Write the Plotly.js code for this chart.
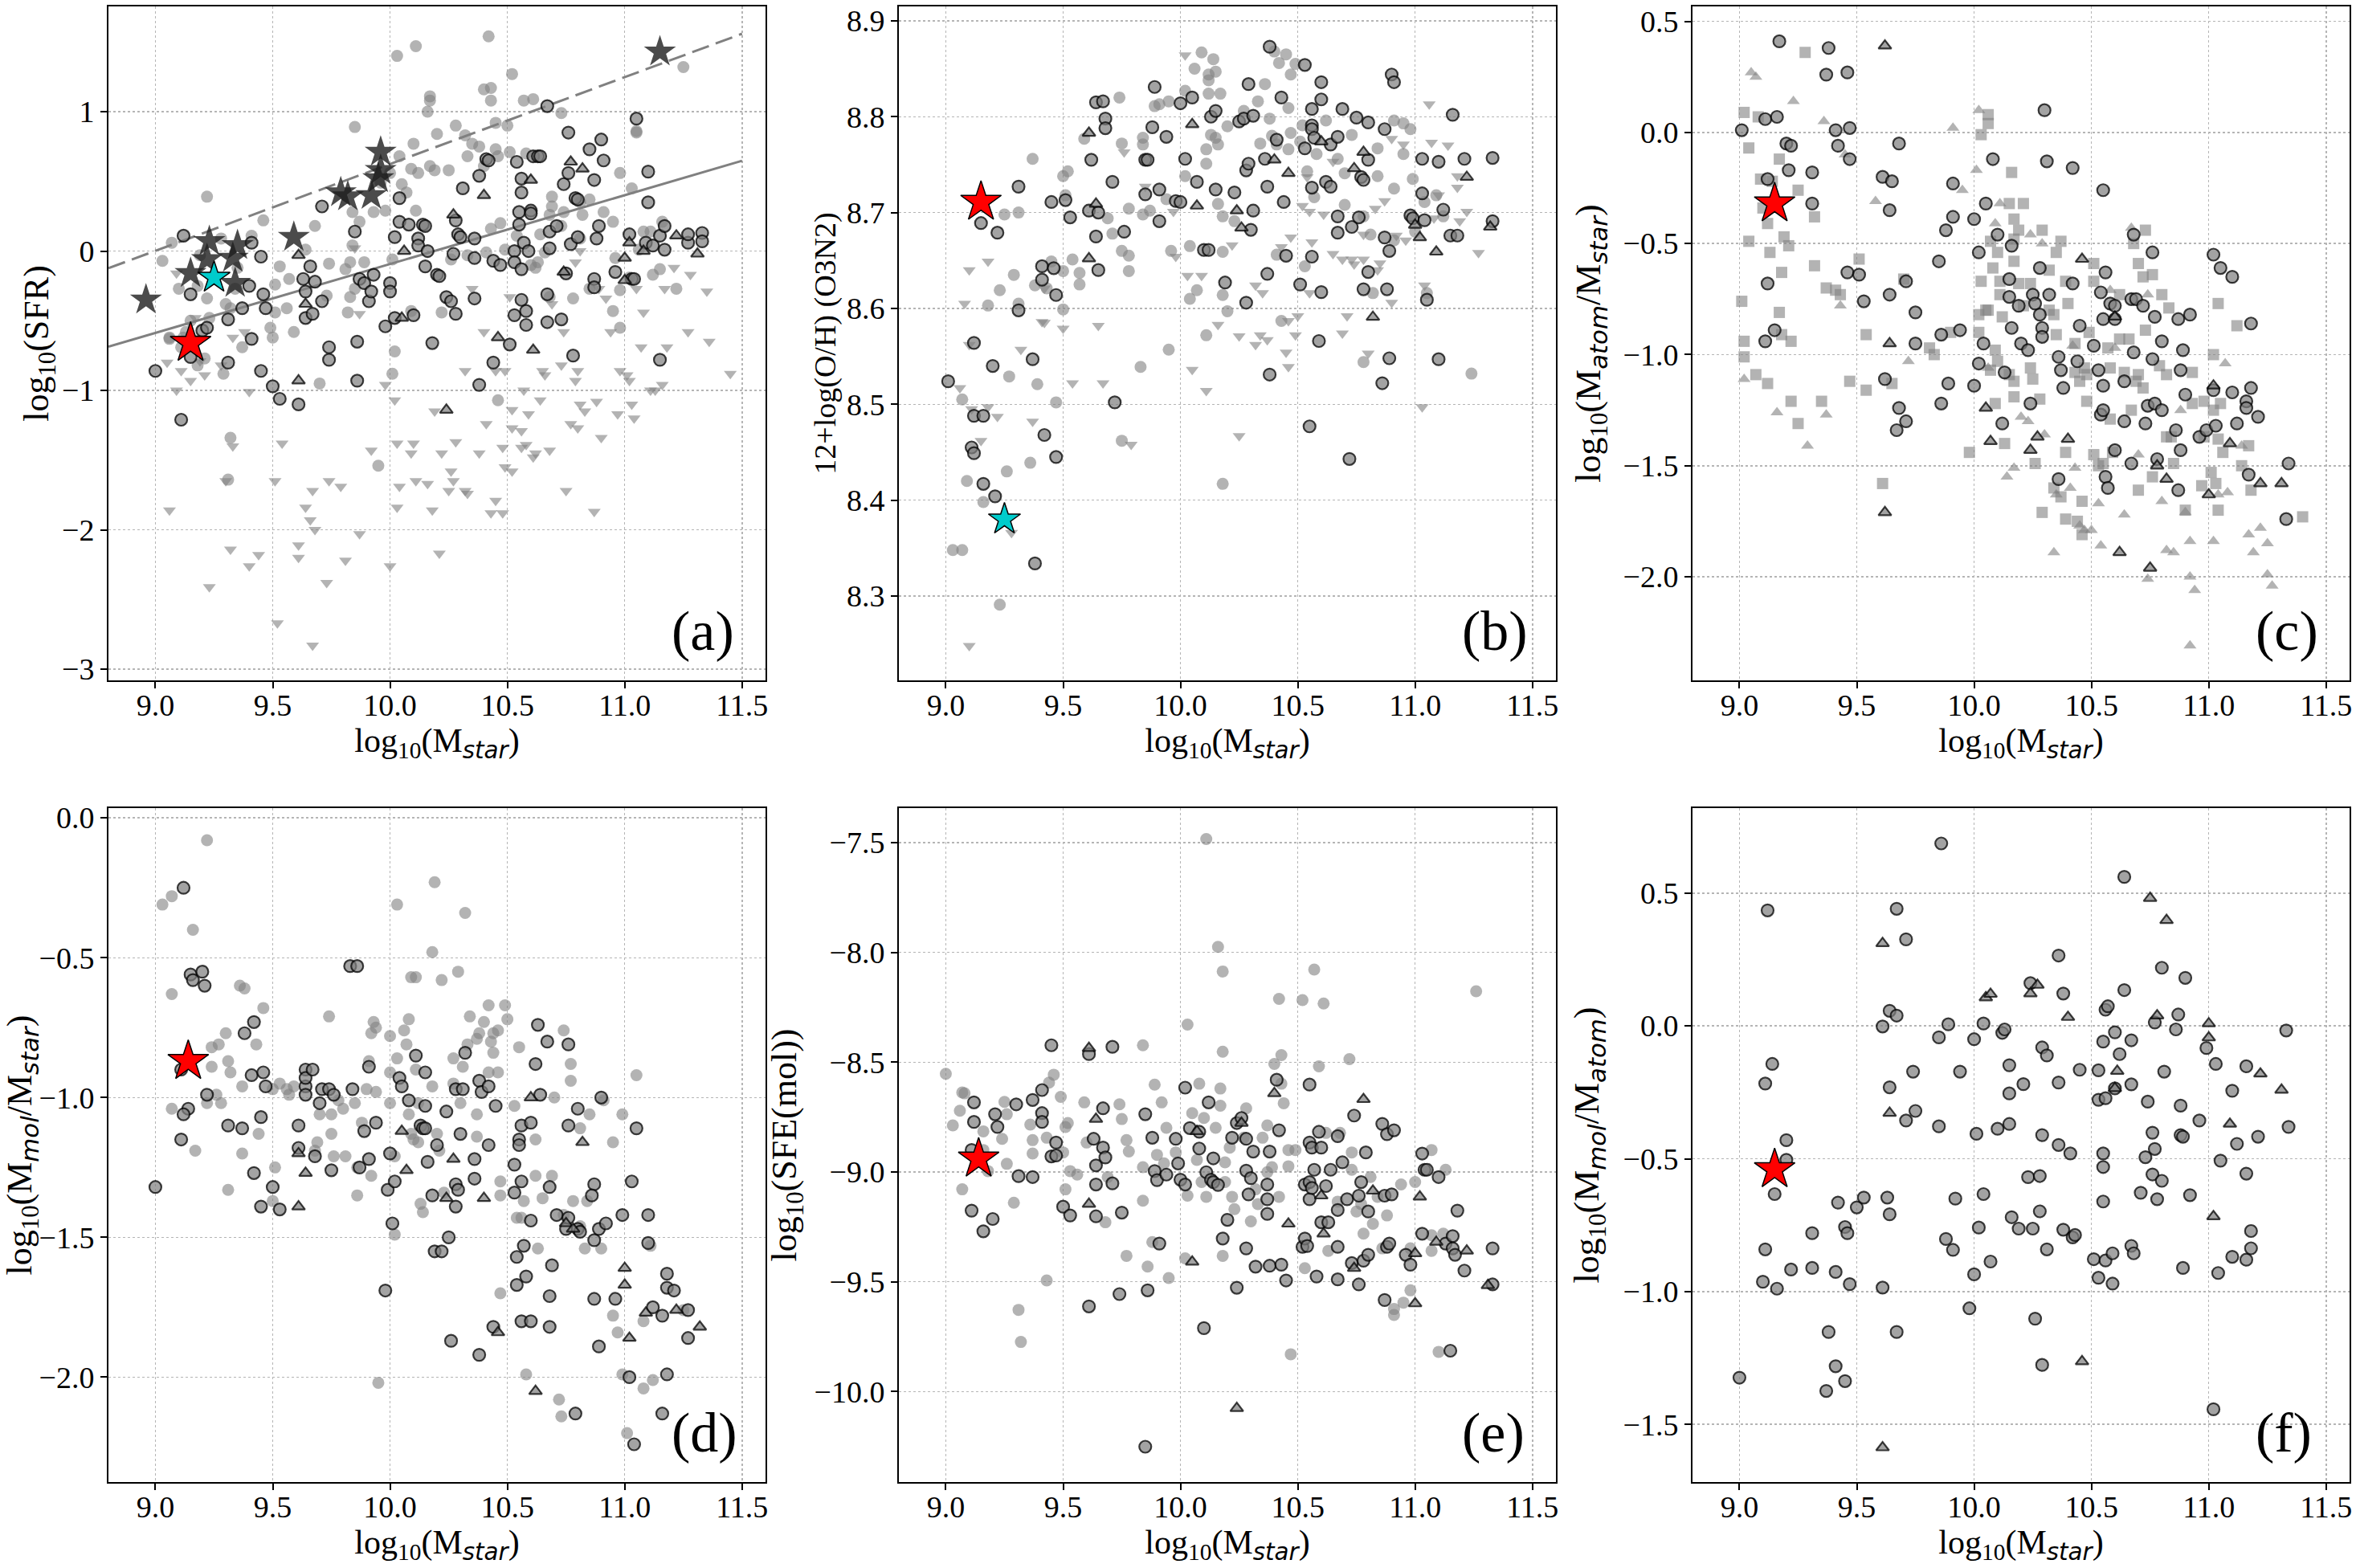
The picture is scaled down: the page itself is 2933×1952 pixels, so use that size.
<!DOCTYPE html>
<html><head><meta charset="utf-8">
<script src="https://cdn.plot.ly/plotly-3.0.1.min.js"></script>
<style>body{margin:0;padding:0;background:#fff}#chart{width:2933px;height:1952px}</style>
</head><body><div id="chart"></div>
<script>
// ---------------- DATA ----------------
// Panel (a): log10(SFR) vs log10(Mstar)
const a_light_circles = [[9.22,0.39],[9.03,-0.07],[9.07,0.06],[9.06,-0.63],[9.46,0.22],[9.68,0.18],[9.85,0.89],[10.03,1.40],[10.11,1.47],[10.42,1.54],[10.52,1.27],[10.40,1.16],[10.43,1.17],[10.43,1.08],[10.17,1.11],[10.17,1.08],[10.16,1.00],[10.20,0.84],[10.28,0.90],[10.32,0.83],[10.45,0.92],[10.50,0.90],[10.57,1.08],[10.61,1.09],[10.73,0.99],[11.05,0.86],[11.25,1.32],[10.10,0.77],[10.12,0.56],[10.17,0.61],[10.19,0.58],[10.25,0.58],[10.33,0.68],[10.35,0.77],[10.38,0.75],[10.40,0.61],[10.45,0.73],[10.46,0.68],[10.51,0.71],[10.58,0.70],[10.04,0.68],[10.00,0.56],[9.96,0.49],[10.05,0.48],[10.09,0.59],[10.07,0.42],[10.11,0.29],[9.98,0.29],[9.93,0.28],[9.84,0.28],[9.87,0.21],[9.84,0.04],[9.83,-0.08],[9.89,-0.08],[9.81,-0.13],[9.74,-0.09],[9.73,-0.32],[9.83,-0.33],[9.82,-0.44],[9.85,-0.27],[9.57,-0.20],[9.56,-0.41],[9.50,-0.62],[9.49,-0.55],[9.51,-0.24],[9.53,-0.11],[9.64,0.01],[9.35,-0.12],[9.34,-0.27],[9.32,-0.41],[9.30,-0.38],[9.37,-0.69],[9.29,-0.88],[9.23,-0.48],[9.22,-0.34],[9.19,-0.03],[9.25,-0.20],[9.28,0.09],[9.18,-0.25],[9.10,-0.27],[9.06,-0.62],[9.15,-0.50],[9.11,-0.69],[9.18,-0.82],[9.21,-0.77],[9.32,-1.34],[9.31,-1.64],[9.41,0.11],[9.51,-0.44],[9.59,-0.58],[9.70,-0.95],[9.95,-1.54],[10.01,-0.88],[10.02,-0.72],[10.01,-0.06],[10.09,-0.43],[10.22,-0.44],[10.26,-0.06],[10.33,-0.03],[10.41,-0.01],[10.43,0.16],[10.47,0.20],[10.49,0.01],[10.54,0.11],[10.63,-0.08],[10.64,0.12],[10.66,-0.01],[10.68,0.26],[10.69,0.39],[10.69,0.32],[10.73,0.18],[10.81,0.35],[10.85,0.37],[10.82,0.26],[10.91,0.28],[10.98,0.56],[11.03,0.45],[11.05,0.85],[10.95,0.21],[10.96,-0.05],[10.98,-0.28],[10.95,-0.43],[10.98,-0.55],[11.02,-0.19],[11.06,0.01],[11.08,0.14],[11.12,-0.17],[11.16,0.21],[10.85,-0.27],[10.74,0.28],[10.78,-0.34],[10.68,-0.33],[10.60,-0.10],[10.62,-0.12],[10.46,-1.07],[10.81,0.09],[11.15,-0.13],[11.11,0.14],[11.22,-0.27],[9.12,-0.62],[9.13,-0.58]];
const a_dark_circles = [[9.12,0.11],[9.00,-0.86],[9.11,-1.21],[9.15,-0.31],[9.15,-0.76],[9.20,-0.57],[9.22,-0.55],[9.31,-0.49],[9.31,-0.80],[9.37,-0.41],[9.41,0.06],[9.45,-0.04],[9.40,-0.25],[9.46,-0.31],[9.41,-0.63],[9.47,-0.41],[9.45,-0.86],[9.50,-0.97],[9.53,-1.06],[9.61,-1.10],[9.63,-0.20],[9.64,-0.29],[9.64,-0.48],[9.66,-0.11],[9.68,-0.22],[9.67,-0.45],[9.71,-0.36],[9.71,0.32],[9.74,-0.69],[9.74,-0.78],[9.85,0.14],[9.86,-0.65],[9.86,-0.93],[9.87,-0.20],[9.89,-0.23],[9.91,-0.36],[9.92,-0.29],[9.93,-0.17],[9.98,-0.54],[10.00,-0.23],[10.00,-0.29],[10.02,0.10],[10.04,0.38],[10.04,0.21],[10.02,-0.48],[10.08,0.19],[10.10,-0.46],[10.12,0.09],[10.12,0.04],[10.14,0.19],[10.15,0.18],[10.15,-0.11],[10.16,0.00],[10.18,-0.66],[10.20,-0.17],[10.21,-0.18],[10.24,-0.33],[10.26,-0.36],[10.27,-0.02],[10.28,-0.45],[10.28,0.22],[10.29,0.12],[10.30,0.10],[10.31,0.45],[10.36,0.09],[10.36,-0.05],[10.36,-0.34],[10.38,0.54],[10.41,0.66],[10.42,0.65],[10.38,-0.96],[10.44,-0.80],[10.44,-0.07],[10.47,-0.10],[10.51,-0.67],[10.53,0.00],[10.53,-0.08],[10.53,-0.46],[10.54,0.64],[10.55,0.28],[10.55,0.19],[10.56,0.52],[10.56,0.42],[10.56,-0.13],[10.56,-0.35],[10.57,0.06],[10.58,-0.43],[10.58,-0.53],[10.59,0.00],[10.60,0.29],[10.60,0.27],[10.61,0.68],[10.63,0.68],[10.64,0.68],[10.67,1.04],[10.67,-0.51],[10.67,-0.31],[10.68,0.02],[10.68,0.14],[10.71,0.18],[10.73,-0.49],[10.74,0.48],[10.75,-0.16],[10.76,0.85],[10.76,0.56],[10.77,0.05],[10.79,0.38],[10.80,0.37],[10.80,0.10],[10.78,-0.75],[10.87,0.51],[10.87,-0.20],[10.87,-0.26],[10.88,0.09],[10.89,0.18],[10.85,0.73],[10.90,0.80],[10.91,0.65],[10.96,-0.15],[11.02,0.12],[11.03,-0.20],[11.04,-0.20],[11.05,0.95],[11.09,0.06],[11.10,0.57],[11.10,0.35],[11.12,0.04],[11.15,-0.78],[11.15,0.11],[11.17,0.18],[11.17,0.01],[11.27,0.06],[11.27,0.12],[11.33,0.13],[11.33,0.07]];
const a_dark_triangles = [[9.61,-0.03],[9.64,-0.38],[9.61,-0.93],[10.05,-0.48],[10.06,0.00],[10.24,-1.14],[10.27,0.26],[10.40,0.40],[10.46,-0.62],[10.60,0.51],[10.61,-0.71],[10.74,-0.15],[10.77,0.64],[10.82,0.59],[11.00,-0.05],[11.00,-0.21],[11.02,0.06],[11.08,0.00],[11.22,0.11],[11.31,-0.02]];
const a_upper_limits = [[9.05,-0.80],[9.09,-1.00],[9.11,-0.86],[9.15,-0.93],[9.09,-0.16],[9.17,-0.48],[9.18,-0.62],[9.19,-0.79],[9.21,-0.89],[9.28,-0.82],[9.33,-0.62],[9.38,-0.58],[9.06,-1.86],[9.23,-2.41],[9.32,-2.14],[9.33,-1.40],[9.30,-1.65],[9.40,-2.26],[9.44,-2.18],[9.40,-1.01],[9.51,-1.65],[9.54,-1.38],[9.52,-2.67],[9.61,-2.11],[9.61,-2.20],[9.64,-1.84],[9.66,-1.93],[9.67,-1.72],[9.67,-2.83],[9.68,-2.00],[9.73,-2.38],[9.74,-1.65],[9.79,-1.69],[9.81,-2.22],[9.87,-2.03],[9.92,-1.43],[10.00,-2.26],[9.98,-0.96],[10.03,-1.38],[10.03,-1.84],[10.04,-1.69],[10.02,-1.07],[10.09,-1.45],[10.10,-1.38],[10.11,-1.65],[10.16,-1.67],[10.18,-1.86],[10.19,-1.15],[10.21,-2.17],[10.22,-1.45],[10.25,-1.72],[10.26,-1.58],[10.27,-1.65],[10.28,-1.37],[10.32,-1.72],[10.33,-1.74],[10.32,-0.86],[10.35,-0.27],[10.38,-1.45],[10.40,-0.58],[10.41,-1.24],[10.43,-1.88],[10.45,-1.79],[10.45,-0.86],[10.48,-1.88],[10.48,-1.41],[10.49,-1.55],[10.49,-0.86],[10.52,-1.27],[10.52,-1.14],[10.52,-1.58],[10.56,-1.29],[10.56,-1.41],[10.58,-1.39],[10.57,-1.00],[10.59,-1.17],[10.61,-1.48],[10.62,-1.45],[10.64,-1.07],[10.65,-0.86],[10.66,-0.89],[10.68,-1.43],[10.69,-0.38],[10.73,-0.82],[10.74,-0.58],[10.75,-1.72],[10.77,-1.24],[10.79,-0.93],[10.80,-0.86],[10.80,-1.27],[10.81,-1.10],[10.83,-1.15],[10.87,-1.87],[10.88,-1.08],[10.90,-1.34],[10.92,-0.34],[10.94,-0.58],[10.97,-1.17],[10.98,-0.86],[11.01,-0.89],[11.02,-0.93],[11.03,-1.10],[11.04,-1.20],[11.07,-0.69],[11.08,-0.44],[11.11,-1.00],[11.13,-1.00],[11.16,-0.96],[11.17,-0.27],[11.18,-0.69],[11.21,-0.12],[11.27,-0.58],[11.28,-0.17],[11.35,-0.29],[11.36,-0.65],[11.45,-0.88],[11.05,-0.27],[10.89,-0.27],[10.81,0.00],[10.79,-0.08],[10.51,-0.33],[9.85,0.02],[9.87,-0.45]];
const a_dark_stars = [[8.96,-0.35],[9.15,-0.16],[9.23,0.07],[9.22,-0.06],[9.35,0.04],[9.33,-0.05],[9.34,-0.23],[9.59,0.10],[9.79,0.42],[9.82,0.39],[9.92,0.40],[9.95,0.52],[9.96,0.58],[9.96,0.71],[11.15,1.43]];
const a_red_star = [[9.15,-0.66]];
const a_cyan_star = [[9.25,-0.19]];
const a_line_solid_x = [8.8, 11.5];
const a_line_solid_y = [-0.686, 0.648];
const a_line_dash_x = [8.8, 11.5];
const a_line_dash_y = [-0.123, 1.559];

// Panel (b): 12+log(O/H) (O3N2)
const b_light_circles = [[9.03,8.348],[9.07,8.348],[9.07,8.505],[9.09,8.420],[9.16,8.398],[9.23,8.291],[9.26,8.430],[9.27,8.529],[9.29,8.635],[9.25,8.698],[9.31,8.700],[9.23,8.619],[9.18,8.603],[9.31,8.605],[9.36,8.439],[9.37,8.756],[9.38,8.624],[9.39,8.521],[9.43,8.621],[9.45,8.649],[9.47,8.502],[9.50,8.639],[9.50,8.599],[9.50,8.738],[9.52,8.743],[9.51,8.718],[9.54,8.651],[9.57,8.637],[9.57,8.625],[9.59,8.777],[9.69,8.694],[9.71,8.678],[9.74,8.820],[9.75,8.772],[9.75,8.660],[9.78,8.655],[9.78,8.639],[9.78,8.704],[9.75,8.462],[9.83,8.539],[9.84,8.771],[9.84,8.778],[9.84,8.698],[9.87,8.702],[9.89,8.811],[9.91,8.813],[9.94,8.714],[9.95,8.557],[9.95,8.816],[9.96,8.660],[10.02,8.738],[10.02,8.827],[10.04,8.665],[10.04,8.610],[10.07,8.619],[10.06,8.850],[10.09,8.867],[10.12,8.844],[10.12,8.838],[10.12,8.824],[10.14,8.860],[10.15,8.847],[10.17,8.824],[10.13,8.781],[10.15,8.778],[10.16,8.771],[10.11,8.766],[10.11,8.751],[10.11,8.572],[10.16,8.709],[10.18,8.696],[10.18,8.659],[10.18,8.614],[10.20,8.597],[10.18,8.417],[10.23,8.691],[10.20,8.790],[10.27,8.806],[10.33,8.816],[10.34,8.772],[10.36,8.834],[10.38,8.798],[10.39,8.780],[10.41,8.771],[10.40,8.868],[10.42,8.856],[10.45,8.865],[10.47,8.844],[10.49,8.855],[10.46,8.809],[10.47,8.783],[10.46,8.766],[10.51,8.774],[10.52,8.791],[10.41,8.656],[10.43,8.587],[10.54,8.743],[10.57,8.716],[10.53,8.644],[10.58,8.761],[10.62,8.796],[10.67,8.756],[10.70,8.741],[10.70,8.708],[10.73,8.781],[10.78,8.696],[10.81,8.677],[10.82,8.616],[10.84,8.738],[10.84,8.767],[10.91,8.725],[10.91,8.796],[10.95,8.761],[10.95,8.793],[10.98,8.787],[10.99,8.735],[11.00,8.680],[11.04,8.711],[11.09,8.718],[11.12,8.696],[11.24,8.532],[10.78,8.544],[11.05,8.616],[10.91,8.671]];
const b_dark_circles = [[9.31,8.727],[9.31,8.598],[9.15,8.689],[9.22,8.679],[9.12,8.564],[9.20,8.540],[9.12,8.488],[9.16,8.488],[9.11,8.455],[9.12,8.449],[9.16,8.417],[9.21,8.404],[9.01,8.524],[9.38,8.334],[9.37,8.547],[9.41,8.644],[9.41,8.630],[9.45,8.711],[9.46,8.642],[9.47,8.614],[9.42,8.468],[9.47,8.445],[9.51,8.713],[9.53,8.695],[9.62,8.755],[9.61,8.702],[9.64,8.815],[9.67,8.816],[9.68,8.798],[9.68,8.788],[9.64,8.675],[9.65,8.700],[9.65,8.640],[9.71,8.732],[9.72,8.502],[9.76,8.680],[9.85,8.755],[9.86,8.755],[9.85,8.719],[9.89,8.831],[9.88,8.789],[9.91,8.724],[9.91,8.691],[9.94,8.779],[9.98,8.712],[10.00,8.711],[10.00,8.814],[10.05,8.820],[10.02,8.756],[10.07,8.732],[10.10,8.661],[10.12,8.661],[10.15,8.724],[10.13,8.800],[10.15,8.806],[10.19,8.627],[10.23,8.721],[10.25,8.795],[10.27,8.798],[10.28,8.744],[10.29,8.751],[10.29,8.834],[10.31,8.801],[10.30,8.682],[10.31,8.702],[10.28,8.606],[10.38,8.873],[10.37,8.727],[10.36,8.756],[10.37,8.636],[10.38,8.531],[10.41,8.776],[10.43,8.820],[10.44,8.711],[10.45,8.655],[10.53,8.854],[10.53,8.767],[10.56,8.791],[10.56,8.787],[10.56,8.808],[10.56,8.726],[10.56,8.654],[10.55,8.477],[10.51,8.625],[10.57,8.778],[10.60,8.836],[10.60,8.818],[10.62,8.732],[10.60,8.617],[10.59,8.566],[10.64,8.771],[10.64,8.727],[10.67,8.779],[10.67,8.696],[10.67,8.679],[10.69,8.808],[10.73,8.685],[10.75,8.799],[10.72,8.443],[10.76,8.695],[10.77,8.737],[10.78,8.734],[10.78,8.620],[10.80,8.755],[10.80,8.638],[10.80,8.794],[10.86,8.522],[10.87,8.787],[10.87,8.674],[10.88,8.620],[10.89,8.548],[10.89,8.660],[10.90,8.844],[10.91,8.836],[10.98,8.697],[10.99,8.694],[11.03,8.720],[11.04,8.692],[11.03,8.756],[11.05,8.609],[11.10,8.753],[11.10,8.547],[11.12,8.703],[11.16,8.802],[11.15,8.676],[11.18,8.676],[11.21,8.756],[11.33,8.757],[11.33,8.691]];
const b_dark_triangles = [[9.61,8.783],[9.64,8.709],[9.61,8.652],[10.05,8.792],[10.07,8.707],[10.24,8.702],[10.26,8.684],[10.40,8.755],[10.46,8.741],[10.60,8.774],[10.74,8.746],[10.78,8.763],[10.82,8.591],[11.00,8.687],[11.02,8.674],[11.09,8.659],[11.22,8.737],[11.32,8.685]];
const b_upper_limits = [[9.10,8.248],[9.10,8.640],[9.08,8.605],[9.10,8.562],[9.06,8.517],[9.11,8.495],[9.15,8.462],[9.18,8.497],[9.22,8.487],[9.18,8.649],[9.28,8.366],[9.32,8.557],[9.37,8.482],[9.41,8.586],[9.42,8.585],[9.42,8.621],[9.50,8.579],[9.54,8.522],[9.65,8.582],[9.67,8.522],[9.76,8.763],[9.79,8.458],[9.85,8.727],[9.98,8.654],[10.03,8.634],[10.05,8.536],[10.09,8.634],[10.11,8.514],[10.02,8.864],[9.97,8.701],[10.16,8.583],[10.22,8.666],[10.25,8.571],[10.25,8.467],[10.32,8.624],[10.32,8.562],[10.34,8.572],[10.35,8.616],[10.37,8.567],[10.43,8.664],[10.45,8.554],[10.46,8.539],[10.46,8.587],[10.47,8.674],[10.49,8.572],[10.50,8.592],[10.52,8.707],[10.54,8.737],[10.55,8.701],[10.56,8.669],[10.55,8.616],[10.61,8.698],[10.65,8.657],[10.65,8.753],[10.69,8.651],[10.71,8.592],[10.69,8.574],[10.73,8.651],[10.74,8.646],[10.78,8.677],[10.78,8.651],[10.80,8.553],[10.83,8.704],[10.84,8.640],[10.85,8.647],[10.87,8.712],[10.90,8.606],[10.90,8.777],[10.92,8.676],[10.95,8.771],[10.96,8.671],[11.03,8.497],[11.04,8.624],[11.06,8.813],[11.07,8.773],[11.08,8.694],[11.10,8.718],[11.14,8.770],[11.18,8.726],[11.18,8.738],[11.19,8.691],[11.22,8.701],[11.27,8.658]];
const b_red_star = [[9.15,8.711]];
const b_cyan_star = [[9.25,8.380]];

// Panel (c): log10(Matom/Mstar)
const c_dark_circles = [[9.17,0.41],[9.01,0.01],[9.11,0.06],[9.16,0.07],[9.20,-0.05],[9.22,-0.06],[9.21,-0.17],[9.12,-0.21],[9.31,-0.18],[9.31,-0.32],[9.12,-0.68],[9.15,-0.89],[9.11,-0.94],[9.38,0.38],[9.37,0.26],[9.46,0.27],[9.41,0.01],[9.42,-0.06],[9.47,-0.12],[9.47,0.02],[9.68,-0.05],[9.61,-0.20],[9.65,-0.22],[9.64,-0.35],[9.46,-0.63],[9.51,-0.64],[9.53,-0.76],[9.64,-0.73],[9.71,-0.67],[9.75,-0.81],[9.75,-0.95],[9.62,-1.11],[9.68,-1.24],[9.67,-1.34],[9.71,-1.30],[9.89,-1.13],[9.86,-1.22],[9.86,-0.91],[9.94,-0.89],[9.85,-0.58],[9.91,-0.23],[9.91,-0.38],[9.88,-0.44],[10.00,-0.39],[10.00,-1.14],[10.02,-1.04],[10.02,-0.54],[10.05,-0.32],[10.08,-0.12],[10.10,-0.46],[10.04,-0.95],[10.13,-1.08],[10.12,-1.31],[10.15,-0.66],[10.16,-0.51],[10.15,-0.74],[10.16,-0.88],[10.19,-0.78],[10.20,-0.95],[10.23,-0.98],[10.24,-1.22],[10.28,-0.61],[10.25,-0.73],[10.26,-0.77],[10.28,-0.82],[10.29,-0.88],[10.29,-0.92],[10.32,-0.73],[10.30,0.10],[10.31,-0.13],[10.42,-0.16],[10.42,-0.68],[10.36,-1.01],[10.37,-1.07],[10.38,-1.15],[10.36,-1.56],[10.44,-1.03],[10.45,-0.87],[10.51,-0.96],[10.55,-0.26],[10.54,-0.72],[10.56,-0.63],[10.55,-0.84],[10.58,-0.77],[10.60,-0.84],[10.60,-0.78],[10.53,-1.07],[10.54,-1.27],[10.55,-1.14],[10.55,-1.25],[10.56,-1.55],[10.57,-1.60],[10.60,-1.43],[10.64,-1.12],[10.64,-1.30],[10.67,-1.49],[10.68,-0.99],[10.67,-0.75],[10.69,-0.75],[10.72,-0.78],[10.68,-0.46],[10.76,-0.54],[10.76,-1.02],[10.77,-0.83],[10.73,-1.31],[10.74,-1.23],[10.77,-1.22],[10.78,-1.47],[10.80,-1.25],[10.80,-0.94],[10.86,-1.34],[10.87,-0.84],[10.87,-1.61],[10.88,-1.43],[10.89,-0.98],[10.90,-1.18],[10.92,-0.82],[10.88,-1.07],[10.96,-1.37],[10.99,-1.34],[11.02,-0.55],[11.05,-0.61],[11.10,-0.65],[11.03,-1.32],[11.02,-1.16],[11.10,-1.17],[11.12,-1.31],[11.16,-1.21],[11.16,-1.24],[11.18,-1.15],[11.18,-0.86],[11.21,-1.28],[11.17,-1.54],[11.34,-1.49],[11.33,-1.74]];
const c_dark_triangles = [[9.62,0.39],[9.64,-0.95],[9.62,-1.71],[10.05,-1.24],[10.07,-1.39],[10.24,-1.43],[10.27,-1.37],[10.40,-1.38],[10.46,-0.57],[10.60,-0.83],[10.62,-1.89],[10.78,-1.50],[10.75,-1.96],[10.82,-1.56],[11.00,-1.63],[11.02,-1.14],[11.09,-1.40],[11.22,-1.58],[11.31,-1.58]];
const c_light_squares = [[9.02,0.09],[9.04,-0.07],[9.01,-0.76],[9.02,-0.94],[9.02,-1.01],[9.04,-0.49],[9.07,-1.09],[9.08,0.07],[9.09,-0.21],[9.10,-0.34],[9.12,-0.41],[9.13,-0.54],[9.12,-1.13],[9.14,-0.22],[9.17,-0.12],[9.18,-0.63],[9.17,-0.81],[9.18,-0.91],[9.19,-0.47],[9.21,-0.51],[9.22,-0.94],[9.22,-1.21],[9.25,-0.26],[9.25,-1.31],[9.28,0.36],[9.32,-0.60],[9.32,-0.38],[9.35,-1.21],[9.37,-0.70],[9.41,-0.71],[9.43,-0.73],[9.47,-1.12],[9.51,-0.57],[9.54,-1.16],[9.54,-0.91],[9.61,-1.58],[9.65,-1.13],[9.70,-0.66],[9.81,-0.97],[9.83,-1.00],[9.90,-0.90],[9.98,-1.44],[10.02,-0.90],[10.03,-0.01],[10.06,0.08],[10.06,0.04],[10.02,-0.82],[10.03,-0.67],[10.05,-0.80],[10.06,-0.80],[10.07,-0.49],[10.08,-0.61],[10.10,-0.54],[10.11,-0.67],[10.11,-0.73],[10.12,-0.83],[10.09,-0.98],[10.10,-1.03],[10.07,-1.07],[10.09,-1.22],[10.13,-1.40],[10.16,-0.18],[10.17,-0.48],[10.17,-0.58],[10.19,-0.68],[10.21,-0.78],[10.17,-0.39],[10.19,-0.44],[10.15,-0.32],[10.15,-1.09],[10.17,-1.12],[10.17,-1.19],[10.21,-0.32],[10.24,-0.68],[10.24,-1.06],[10.25,-1.11],[10.26,-1.49],[10.28,-1.20],[10.29,-0.44],[10.32,-0.62],[10.32,-0.80],[10.35,-0.91],[10.34,-0.82],[10.35,-0.54],[10.37,-0.49],[10.39,-0.67],[10.40,-0.77],[10.43,-0.95],[10.29,-1.71],[10.34,-1.60],[10.37,-1.64],[10.39,-1.44],[10.39,-1.74],[10.43,-1.08],[10.45,-1.12],[10.47,-1.06],[10.48,-1.09],[10.48,-1.21],[10.51,-0.67],[10.51,-0.59],[10.51,-1.45],[10.49,-0.90],[10.46,-1.66],[10.46,-1.81],[10.44,-1.75],[10.53,-1.50],[10.57,-0.97],[10.58,-1.06],[10.58,-1.29],[10.55,-1.49],[10.59,-1.44],[10.62,-0.73],[10.62,-0.93],[10.64,-1.08],[10.66,-0.93],[10.67,-1.25],[10.69,-1.12],[10.68,-0.50],[10.70,-1.09],[10.72,-1.15],[10.73,-0.44],[10.72,-0.65],[10.70,-0.59],[10.73,-0.89],[10.76,-0.64],[10.76,-1.55],[10.79,-1.05],[10.80,-0.73],[10.83,-0.79],[10.82,-1.09],[10.82,-1.37],[10.84,-1.37],[10.85,-1.49],[10.70,-1.61],[10.93,-1.08],[10.93,-1.22],[10.98,-1.21],[10.98,-1.37],[10.97,-1.59],[10.90,-1.70],[11.02,-1.25],[11.01,-1.53],[11.02,-1.00],[11.03,-1.58],[11.04,-0.77],[11.05,-1.22],[11.04,-1.38],[11.06,-1.44],[11.04,-1.70],[11.12,-0.87],[11.14,-1.50],[11.18,-1.61],[11.17,-1.41],[11.40,-1.73]];
const c_light_triangles = [[9.05,0.27],[9.07,0.25],[9.02,-1.11],[9.16,-1.26],[9.23,0.14],[9.29,-1.41],[9.36,0.05],[9.37,-1.27],[9.45,-0.10],[9.43,-0.78],[9.58,-0.31],[9.72,-1.03],[9.91,0.02],[9.95,-0.26],[10.01,-0.17],[10.02,0.10],[10.06,-1.06],[10.09,-0.41],[10.11,-0.32],[10.14,-1.55],[10.17,-1.51],[10.23,-1.30],[10.20,-1.28],[10.24,-0.46],[10.29,-0.50],[10.30,-1.36],[10.34,-1.89],[10.35,-1.63],[10.42,-0.96],[10.41,-1.60],[10.43,-1.51],[10.45,-1.77],[10.47,-1.79],[10.50,-1.79],[10.53,-1.67],[10.54,-1.86],[10.58,-0.71],[10.60,-0.97],[10.64,-1.72],[10.67,-0.43],[10.70,-1.45],[10.74,-2.01],[10.74,-0.73],[10.80,-1.66],[10.82,-1.88],[10.85,-1.89],[10.88,-1.25],[10.90,-1.71],[10.92,-2.00],[10.92,-2.31],[10.92,-1.84],[10.94,-2.06],[11.02,-1.84],[11.04,-1.63],[11.07,-1.04],[11.14,-1.41],[11.08,-1.62],[11.17,-1.81],[11.19,-1.89],[11.22,-1.78],[11.25,-1.85],[11.25,-1.99],[11.27,-2.04]];
const c_red_star = [[9.15,-0.32]];

// Panel (d): log10(Mmol/Mstar)
const d_light_circles = [[9.22,-0.08],[9.03,-0.31],[9.07,-0.28],[9.16,-0.40],[9.07,-0.63],[9.07,-1.04],[9.17,-1.19],[9.24,-0.82],[9.27,-0.81],[9.30,-0.77],[9.31,-0.87],[9.32,-0.91],[9.24,-0.89],[9.22,-1.02],[9.26,-0.99],[9.28,-1.02],[9.31,-1.33],[9.36,-0.60],[9.38,-0.61],[9.37,-0.96],[9.37,-1.20],[9.46,-0.68],[9.43,-0.81],[9.44,-1.13],[9.50,-0.97],[9.51,-1.25],[9.50,-1.37],[9.53,-0.95],[9.56,-0.97],[9.57,-0.99],[9.59,-0.96],[9.68,-1.19],[9.69,-1.16],[9.70,-1.06],[9.74,-0.71],[9.75,-1.06],[9.75,-1.13],[9.76,-1.21],[9.78,-1.01],[9.80,-1.04],[9.81,-1.21],[9.85,-1.02],[9.86,-1.25],[9.86,-1.35],[9.88,-1.09],[9.90,-0.97],[9.91,-0.87],[9.92,-0.77],[9.93,-0.73],[9.94,-0.75],[9.92,-1.28],[9.94,-0.98],[9.95,-2.02],[10.00,-0.78],[10.00,-0.91],[10.00,-1.02],[10.02,-1.49],[10.03,-0.31],[10.02,-1.21],[10.03,-0.86],[10.06,-0.76],[10.07,-0.81],[10.08,-0.72],[10.09,-0.57],[10.11,-0.57],[10.08,-1.06],[10.09,-1.13],[10.10,-1.15],[10.11,-0.90],[10.12,-1.02],[10.13,-1.38],[10.12,-1.16],[10.14,-1.41],[10.18,-0.48],[10.19,-0.23],[10.18,-0.96],[10.20,-1.13],[10.21,-1.19],[10.22,-0.58],[10.23,-1.34],[10.27,-0.86],[10.27,-0.95],[10.29,-0.55],[10.30,-1.02],[10.31,-0.89],[10.32,-0.34],[10.33,-0.81],[10.34,-0.71],[10.37,-0.79],[10.37,-1.06],[10.37,-1.14],[10.38,-0.77],[10.40,-0.73],[10.42,-0.67],[10.43,-0.80],[10.44,-0.84],[10.44,-0.77],[10.46,-0.76],[10.42,-0.91],[10.47,-1.70],[10.47,-1.30],[10.46,-0.91],[10.47,-1.35],[10.49,-0.67],[10.50,-0.72],[10.53,-1.03],[10.54,-1.43],[10.55,-0.82],[10.56,-1.43],[10.58,-1.99],[10.57,-1.37],[10.62,-1.15],[10.62,-1.28],[10.63,-1.54],[10.65,-1.36],[10.69,-1.28],[10.70,-1.00],[10.74,-0.76],[10.74,-1.42],[10.77,-0.94],[10.77,-0.88],[10.72,-2.08],[10.73,-2.14],[10.78,-1.37],[10.81,-1.46],[10.81,-1.11],[10.85,-1.06],[10.84,-1.37],[10.83,-1.54],[10.90,-1.54],[10.91,-1.01],[10.95,-1.16],[10.95,-1.78],[10.97,-1.84],[10.99,-1.06],[10.99,-1.99],[11.01,-2.20],[11.05,-0.92],[11.08,-2.04],[11.08,-1.80],[11.11,-1.53],[11.12,-2.01],[11.25,-1.76]];
const d_dark_circles = [[9.12,-0.25],[9.15,-0.56],[9.16,-0.58],[9.20,-0.55],[9.21,-0.60],[9.11,-0.90],[9.14,-1.04],[9.12,-1.06],[9.22,-0.99],[9.11,-1.15],[9.00,-1.32],[9.31,-1.10],[9.38,-0.77],[9.37,-1.11],[9.41,-0.92],[9.42,-0.73],[9.42,-1.27],[9.45,-1.39],[9.45,-1.07],[9.46,-0.91],[9.47,-0.96],[9.50,-1.32],[9.53,-1.40],[9.61,-1.10],[9.61,-1.18],[9.64,-0.96],[9.64,-0.99],[9.64,-0.90],[9.64,-0.93],[9.67,-0.90],[9.68,-1.21],[9.71,-0.97],[9.75,-1.26],[9.74,-0.97],[9.76,-0.99],[9.70,-1.02],[9.83,-0.53],[9.86,-0.53],[9.84,-0.97],[9.87,-1.25],[9.89,-1.12],[9.91,-0.89],[9.91,-1.22],[9.94,-1.09],[10.00,-1.20],[9.99,-1.33],[9.98,-1.69],[10.01,-1.45],[10.02,-1.30],[10.04,-0.93],[10.05,-0.96],[10.08,-1.01],[10.11,-0.85],[10.13,-1.10],[10.14,-1.11],[10.15,-0.91],[10.15,-1.11],[10.15,-1.03],[10.16,-1.23],[10.18,-1.35],[10.19,-1.55],[10.20,-1.17],[10.22,-1.55],[10.24,-1.05],[10.25,-1.50],[10.26,-1.87],[10.28,-1.31],[10.28,-0.97],[10.28,-1.39],[10.29,-1.33],[10.30,-1.13],[10.31,-0.97],[10.32,-0.84],[10.36,-1.29],[10.36,-1.22],[10.38,-0.94],[10.38,-1.92],[10.39,-0.98],[10.42,-1.17],[10.42,-0.96],[10.44,-1.82],[10.45,-1.03],[10.53,-1.24],[10.53,-1.34],[10.54,-1.57],[10.54,-1.67],[10.55,-1.15],[10.55,-1.17],[10.56,-1.30],[10.56,-1.80],[10.56,-1.10],[10.57,-1.53],[10.58,-1.64],[10.60,-1.44],[10.60,-1.09],[10.60,-1.80],[10.62,-0.88],[10.63,-0.74],[10.64,-0.99],[10.67,-0.80],[10.68,-1.71],[10.68,-1.82],[10.68,-1.32],[10.69,-1.60],[10.71,-1.42],[10.75,-1.47],[10.76,-1.10],[10.76,-0.81],[10.76,-1.43],[10.79,-2.13],[10.80,-1.04],[10.80,-1.47],[10.81,-1.48],[10.87,-1.51],[10.87,-1.72],[10.87,-1.31],[10.86,-1.35],[10.89,-1.89],[10.89,-1.47],[10.90,-1.00],[10.92,-1.45],[10.96,-1.72],[10.99,-1.42],[11.02,-2.00],[11.03,-1.30],[11.05,-1.11],[11.10,-1.42],[11.10,-1.52],[11.12,-1.75],[11.16,-1.78],[11.18,-1.68],[11.18,-1.63],[11.18,-1.99],[11.16,-2.13],[11.21,-1.69],[11.27,-1.76],[11.27,-1.86],[11.04,-2.24]];
const d_dark_triangles = [[9.61,-1.20],[9.61,-1.39],[9.64,-1.27],[10.05,-1.12],[10.07,-1.26],[10.24,-1.36],[10.27,-1.22],[10.40,-1.36],[10.46,-1.84],[10.60,-1.00],[10.62,-2.05],[10.75,-1.45],[10.78,-1.47],[10.82,-1.16],[11.00,-1.61],[11.00,-1.67],[11.02,-1.86],[11.09,-1.77],[11.22,-1.76],[11.32,-1.82]];
const d_red_star = [[9.14,-0.87]];

// Panel (e): log10(SFE(mol))
const e_light_circles = [[9.00,-8.553],[9.03,-8.788],[9.07,-8.638],[9.08,-8.642],[9.06,-8.721],[9.07,-9.079],[9.16,-8.815],[9.16,-8.90],[9.18,-8.996],[9.25,-8.681],[9.26,-8.737],[9.24,-8.849],[9.26,-8.963],[9.29,-9.14],[9.31,-9.628],[9.32,-9.774],[9.37,-8.855],[9.37,-8.916],[9.43,-8.844],[9.36,-8.784],[9.43,-9.494],[9.44,-8.593],[9.46,-8.557],[9.49,-8.658],[9.51,-8.795],[9.50,-8.911],[9.51,-9.079],[9.52,-8.777],[9.53,-8.996],[9.56,-9.012],[9.59,-8.683],[9.60,-8.866],[9.68,-9.229],[9.69,-9.023],[9.74,-8.692],[9.75,-8.759],[9.77,-8.855],[9.77,-9.382],[9.78,-8.907],[9.84,-8.423],[9.84,-8.978],[9.84,-9.131],[9.86,-9.431],[9.88,-9.319],[9.89,-8.602],[9.90,-8.922],[9.92,-8.683],[9.93,-8.961],[9.95,-9.483],[9.94,-8.799],[9.98,-8.911],[10.02,-9.393],[10.03,-8.329],[10.03,-9.108],[10.05,-8.732],[10.07,-8.945],[10.08,-8.598],[10.09,-9.046],[10.10,-8.754],[10.11,-7.484],[10.11,-9.113],[10.15,-8.799],[10.16,-7.975],[10.17,-8.62],[10.18,-8.087],[10.18,-8.452],[10.17,-8.698],[10.18,-9.382],[10.19,-8.956],[10.19,-9.046],[10.21,-8.889],[10.22,-9.113],[10.23,-9.169],[10.27,-8.844],[10.28,-8.71],[10.30,-9.225],[10.32,-9.079],[10.33,-9.146],[10.35,-8.844],[10.37,-9.001],[10.37,-8.788],[10.39,-8.978],[10.40,-8.508],[10.42,-8.212],[10.42,-9.113],[10.43,-8.468],[10.43,-8.598],[10.44,-8.687],[10.46,-8.90],[10.46,-8.974],[10.47,-9.83],[10.49,-8.90],[10.52,-8.217],[10.53,-9.438],[10.59,-8.519],[10.57,-8.078],[10.61,-8.233],[10.62,-8.822],[10.63,-9.359],[10.67,-9.135],[10.68,-8.822],[10.72,-8.486],[10.73,-8.911],[10.73,-8.99],[10.75,-9.18],[10.77,-9.146],[10.78,-9.281],[10.81,-9.023],[10.82,-9.236],[10.84,-9.113],[10.86,-9.348],[10.88,-9.198],[10.94,-9.057],[10.91,-9.624],[10.91,-9.651],[10.95,-9.595],[10.98,-9.348],[10.98,-9.539],[11.00,-9.046],[11.07,-8.90],[11.07,-9.359],[11.10,-9.819],[11.13,-8.99],[11.07,-9.288],[11.12,-9.281],[11.26,-8.177]];
const e_dark_circles = [[9.12,-8.683],[9.12,-8.772],[9.11,-9.176],[9.16,-9.27],[9.20,-9.214],[9.21,-8.737],[9.22,-8.795],[9.11,-8.90],[9.30,-8.692],[9.31,-9.019],[9.37,-9.023],[9.37,-8.672],[9.41,-8.732],[9.41,-8.772],[9.41,-8.627],[9.45,-8.423],[9.45,-8.929],[9.47,-8.866],[9.47,-8.925],[9.50,-9.158],[9.53,-9.198],[9.61,-8.463],[9.61,-9.612],[9.63,-8.849],[9.64,-8.97],[9.64,-9.057],[9.64,-9.202],[9.67,-8.71],[9.67,-8.889],[9.68,-8.934],[9.71,-9.052],[9.71,-8.43],[9.75,-9.185],[9.74,-9.556],[9.85,-8.737],[9.88,-8.844],[9.89,-8.996],[9.90,-9.037],[9.91,-9.326],[9.86,-9.539],[9.94,-9.012],[9.98,-8.849],[9.99,-8.961],[10.00,-9.035],[10.02,-9.057],[10.02,-8.616],[10.04,-8.80],[10.08,-8.893],[10.08,-8.817],[10.11,-9.001],[10.12,-8.683],[10.10,-9.711],[10.13,-9.035],[10.14,-8.938],[10.14,-9.046],[10.16,-9.059],[10.18,-9.303],[10.20,-9.218],[10.22,-8.844],[10.24,-8.777],[10.26,-8.754],[10.28,-8.994],[10.28,-8.849],[10.29,-9.102],[10.30,-9.028],[10.28,-9.348],[10.31,-8.907],[10.24,-9.527],[10.32,-9.431],[10.37,-9.057],[10.37,-9.124],[10.37,-9.191],[10.38,-8.907],[10.38,-9.427],[10.41,-8.58],[10.42,-8.81],[10.43,-9.422],[10.45,-9.494],[10.52,-9.341],[10.53,-9.057],[10.53,-9.303],[10.54,-9.337],[10.55,-8.602],[10.55,-8.866],[10.56,-8.889],[10.55,-9.046],[10.55,-9.124],[10.57,-8.99],[10.56,-9.073],[10.59,-8.817],[10.60,-8.889],[10.58,-9.476],[10.60,-9.229],[10.62,-9.064],[10.63,-9.229],[10.64,-8.99],[10.67,-8.837],[10.67,-9.341],[10.67,-9.489],[10.67,-9.173],[10.69,-8.956],[10.71,-9.124],[10.73,-9.415],[10.74,-8.743],[10.76,-9.512],[10.76,-9.108],[10.77,-9.046],[10.78,-9.404],[10.79,-8.911],[10.80,-9.377],[10.80,-9.18],[10.86,-8.781],[10.87,-9.108],[10.87,-9.583],[10.88,-8.828],[10.88,-9.341],[10.89,-9.326],[10.91,-8.81],[10.90,-9.102],[10.96,-9.377],[10.98,-9.422],[11.03,-8.916],[11.04,-8.99],[11.05,-8.99],[11.03,-9.281],[11.10,-9.023],[11.13,-9.326],[11.16,-9.292],[11.16,-9.348],[11.15,-9.814],[11.18,-9.176],[11.17,-9.377],[11.21,-9.449],[11.33,-9.348],[11.33,-9.512],[9.85,-10.251]];
const e_dark_triangles = [[9.61,-8.436],[9.64,-8.759],[9.61,-9.146],[10.07,-8.815],[10.05,-9.409],[10.24,-10.076],[10.26,-8.777],[10.40,-8.642],[10.46,-9.236],[10.60,-9.108],[10.61,-9.281],[10.74,-9.438],[10.78,-8.669],[10.82,-9.086],[11.00,-9.371],[11.00,-9.599],[11.02,-9.113],[11.09,-9.319],[11.22,-9.359],[11.31,-9.516]];
const e_red_star = [[9.14,-8.94]];

// Panel (f): log10(Mmol/Matom)
const f_dark_circles = [[9.12,0.435],[9.14,-0.143],[9.11,-0.217],[9.20,-0.43],[9.20,-0.504],[9.15,-0.633],[9.00,-1.324],[9.11,-0.841],[9.10,-0.963],[9.16,-0.989],[9.22,-0.917],[9.31,-0.78],[9.31,-0.911],[9.38,-1.152],[9.37,-1.374],[9.41,-1.281],[9.41,-0.926],[9.42,-0.665],[9.45,-0.757],[9.46,-0.78],[9.45,-1.337],[9.47,-0.972],[9.50,-0.683],[9.53,-0.646],[9.61,-0.002],[9.64,0.057],[9.67,0.039],[9.67,0.441],[9.64,-0.231],[9.63,-0.646],[9.64,-0.709],[9.61,-0.985],[9.67,-1.152],[9.71,0.326],[9.74,-0.172],[9.75,-0.32],[9.71,-0.356],[9.85,-0.378],[9.85,-0.043],[9.86,0.687],[9.89,0.006],[9.88,-0.802],[9.91,-0.843],[9.94,-0.172],[9.92,-0.65],[9.98,-1.063],[10.00,-0.935],[10.00,-0.05],[10.01,-0.406],[10.02,-0.759],[10.04,0.009],[10.04,-0.633],[10.07,-0.887],[10.10,-0.387],[10.12,-0.026],[10.13,-0.013],[10.15,-0.148],[10.15,-0.254],[10.15,-0.369],[10.16,-0.72],[10.19,-0.763],[10.21,-0.219],[10.23,-0.569],[10.24,0.161],[10.25,-0.763],[10.26,-1.102],[10.28,-0.698],[10.28,-0.565],[10.29,-0.081],[10.29,-0.411],[10.29,-1.276],[10.31,-0.111],[10.31,-0.841],[10.36,0.265],[10.36,-0.213],[10.36,-0.448],[10.38,0.122],[10.38,-0.767],[10.41,-0.48],[10.42,-0.796],[10.43,-0.787],[10.45,-0.165],[10.51,-0.878],[10.53,-0.167],[10.53,-0.948],[10.53,-0.278],[10.55,-0.059],[10.56,-0.272],[10.55,-0.48],[10.55,-0.531],[10.55,-0.661],[10.56,-0.883],[10.56,0.061],[10.57,0.074],[10.59,-0.856],[10.59,-0.97],[10.60,-0.024],[10.60,-0.235],[10.62,-0.106],[10.64,0.561],[10.64,0.135],[10.67,-0.054],[10.67,-0.22],[10.67,-0.828],[10.68,-0.856],[10.71,-0.628],[10.73,-0.494],[10.74,-0.285],[10.76,-0.402],[10.77,0.013],[10.77,-0.463],[10.76,-0.559],[10.78,-0.652],[10.80,0.219],[10.80,-0.583],[10.81,-0.172],[10.86,-0.013],[10.87,0.043],[10.88,-0.30],[10.88,-0.411],[10.89,-0.417],[10.90,0.181],[10.89,-0.911],[10.92,-0.637],[10.96,-0.356],[10.99,-0.083],[11.03,-0.143],[11.02,-1.443],[11.04,-0.93],[11.05,-0.507],[11.10,-0.244],[11.10,-0.869],[11.12,-0.444],[11.16,-0.152],[11.16,-0.556],[11.16,-0.88],[11.18,-0.837],[11.18,-0.772],[11.21,-0.417],[11.33,-0.017],[11.34,-0.38]];
const f_dark_triangles = [[9.61,0.311],[9.64,-0.328],[9.61,-1.587],[10.05,0.107],[10.07,0.12],[10.24,0.122],[10.27,0.154],[10.40,0.033],[10.46,-1.263],[10.61,-0.17],[10.60,-0.235],[10.75,0.481],[10.78,0.039],[10.82,0.398],[11.00,0.009],[11.00,-0.044],[11.02,-0.717],[11.09,-0.369],[11.22,-0.18],[11.31,-0.241]];
const f_red_star = [[9.15,-0.54]];

const x_tick_vals = [9.0, 9.5, 10.0, 10.5, 11.0, 11.5];
const panel_labels = ['(a)','(b)','(c)','(d)','(e)','(f)'];

// ---------------- STYLE / LAYOUT ----------------
const W = 2933, H = 1952;
const FONT = "'Liberation Serif', 'Times New Roman', serif";
const LIGHT = 'rgba(128,128,128,0.6)';
const DFACE = 'rgba(128,128,128,0.72)';
const DEDGE = 'rgba(0,0,0,0.75)';
const SANS_I = s => '<span style="font-family:DejaVu Sans"><i>' + s + '</i></span>';
const LOG10 = 'log<sub>10</sub>';
const MSTAR = LOG10 + '(M<sub>' + SANS_I('star') + '</sub>)';

const xs = a => a.map(p => p[0]);
const ys = a => a.map(p => p[1]);
function axn(k){ return k === 1 ? '' : String(k); }
function mk(pts, k, sym, size, color, line){
  return {type:'scatter', mode:'markers', x:xs(pts), y:ys(pts),
    xaxis:'x'+axn(k), yaxis:'y'+axn(k), hoverinfo:'skip', showlegend:false,
    marker:{symbol:sym, size:size, color:color, line:line || {width:0}}};
}
const darkLine = {color:DEDGE, width:2.2};
const lightC = (p,k) => mk(p,k,'circle',15,LIGHT);
const lightTD = (p,k) => mk(p,k,'triangle-down',14,LIGHT);
const lightTU = (p,k) => mk(p,k,'triangle-up',14,LIGHT);
const lightSQ = (p,k) => mk(p,k,'square',14,LIGHT);
const darkC = (p,k) => mk(p,k,'circle',15,DFACE,darkLine);
const darkT = (p,k) => mk(p,k,'triangle-up',14,DFACE,darkLine);
const redS = (p,k) => mk(p,k,'star',38,'#ff0000',{color:'black',width:1.5});
const cyanS = (p,k) => mk(p,k,'star',30,'#00cccc',{color:'black',width:1.5});

const traces = [];
// (a)
traces.push(lightC(a_light_circles,1), lightTD(a_upper_limits,1));
traces.push({type:'scatter',mode:'lines',x:a_line_dash_x,y:a_line_dash_y,xaxis:'x',yaxis:'y',
  line:{color:'#808080',width:3,dash:'22px,9px'},hoverinfo:'skip',showlegend:false});
traces.push({type:'scatter',mode:'lines',x:a_line_solid_x,y:a_line_solid_y,xaxis:'x',yaxis:'y',
  line:{color:'#808080',width:3},hoverinfo:'skip',showlegend:false});
traces.push(darkC(a_dark_circles,1), darkT(a_dark_triangles,1));
traces.push(mk(a_dark_stars,1,'star',30,'rgba(30,30,30,0.8)'));
traces.push(redS(a_red_star,1), cyanS(a_cyan_star,1));
// (b)
traces.push(lightC(b_light_circles,2), lightTD(b_upper_limits,2), darkC(b_dark_circles,2), darkT(b_dark_triangles,2));
traces.push(redS(b_red_star,2), cyanS(b_cyan_star,2));
// (c)
traces.push(lightSQ(c_light_squares,3), lightTU(c_light_triangles,3), darkC(c_dark_circles,3), darkT(c_dark_triangles,3), redS(c_red_star,3));
// (d)
traces.push(lightC(d_light_circles,4), darkC(d_dark_circles,4), darkT(d_dark_triangles,4), redS(d_red_star,4));
// (e)
traces.push(lightC(e_light_circles,5), darkC(e_dark_circles,5), darkT(e_dark_triangles,5), redS(e_red_star,5));
// (f)
traces.push(darkC(f_dark_circles,6), darkT(f_dark_triangles,6), redS(f_red_star,6));

const colPx = [[135,953],[1119,1937],[2107,2925]];
const rowPx = [[8,847],[1006,1845]];
const panels = [
  {yr:[-3.08,1.755], dt:1,   fmt:'',    ts:44, so:3,  yt:LOG10+'(SFR)'},
  {yr:[8.212,8.915], dt:0.1, fmt:'.1f', ts:38, so:2,  yt:'12+log(O/H) (O3N2)'},
  {yr:[-2.466,0.567],dt:0.5, fmt:'.1f', ts:44, so:14, yt:LOG10+'(M<sub>'+SANS_I('atom')+'</sub>/M<sub>'+SANS_I('star')+'</sub>)'},
  {yr:[-2.375,0.035],dt:0.5, fmt:'.1f', ts:44, so:20, yt:LOG10+'(M<sub>'+SANS_I('mol')+'</sub>/M<sub>'+SANS_I('star')+'</sub>)'},
  {yr:[-10.412,-7.343],dt:0.5,fmt:'.1f',ts:44, so:8,  yt:LOG10+'(SFE(mol))'},
  {yr:[-1.717,0.82], dt:0.5, fmt:'.1f', ts:44, so:16, yt:LOG10+'(M<sub>'+SANS_I('mol')+'</sub>/M<sub>'+SANS_I('atom')+'</sub>)'}
];

const layout = {width:W, height:H, margin:{l:0,r:0,t:0,b:0,pad:0}, paper_bgcolor:'white', plot_bgcolor:'white',
  showlegend:false, hovermode:false, annotations:[], font:{family:FONT, color:'black'}};
const common = {showline:true, linecolor:'black', linewidth:2, mirror:true, ticks:'outside', ticklen:8, tickwidth:2,
  tickcolor:'black', showgrid:true, gridcolor:'#b5b5b5', griddash:'dot', gridwidth:1.5, zeroline:false,
  tickfont:{family:FONT, size:38, color:'black'}, automargin:false, ticklabeloverflow:'allow'};

panels.forEach((p, i) => {
  const k = i + 1, c = colPx[i % 3], r = rowPx[Math.floor(i / 3)];
  const xd = [c[0] / W, c[1] / W], yd = [1 - r[1] / H, 1 - r[0] / H];
  layout['xaxis' + axn(k)] = Object.assign({}, common, {domain:xd, range:[8.8, 11.6], anchor:'y' + axn(k),
    tickvals:x_tick_vals, tickformat:'.1f', ticklabelstandoff:-12,
    title:{text:MSTAR, font:{family:FONT, size:42, color:'black'}, standoff:0}});
  const ya = Object.assign({}, common, {domain:yd, range:p.yr, anchor:'x' + axn(k), dtick:p.dt, tick0:0,
    title:{text:p.yt, font:{family:FONT, size:p.ts, color:'black'}, standoff:p.so}});
  if (p.fmt) ya.tickformat = p.fmt;
  layout['yaxis' + axn(k)] = ya;
  layout.annotations.push({text:panel_labels[i], xref:'x' + axn(k) + ' domain', yref:'y' + axn(k) + ' domain',
    x:0.855, y:0.025, xanchor:'left', yanchor:'bottom', showarrow:false,
    font:{family:FONT, size:70, color:'black'}});
});

Plotly.newPlot('chart', traces, layout, {staticPlot:true, displayModeBar:false});
</script>
</body></html>
